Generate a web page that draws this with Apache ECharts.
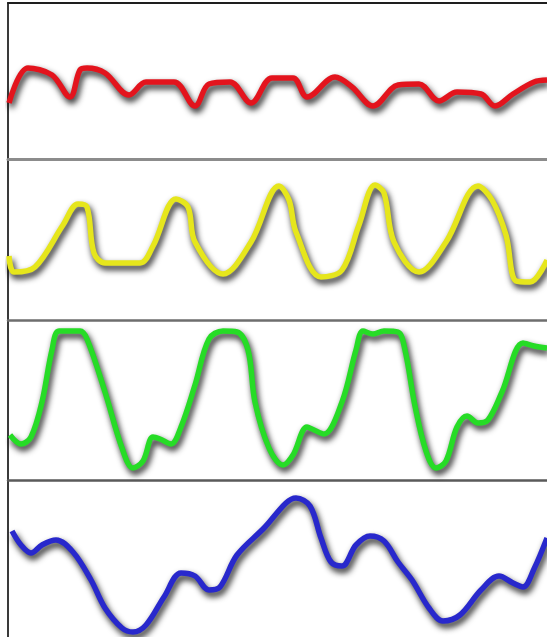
<!DOCTYPE html>
<html>
<head>
<meta charset="utf-8">
<script src="https://cdn.jsdelivr.net/npm/echarts@6/dist/echarts.min.js"></script>
<style>
html,body{margin:0;padding:0;background:#fff;}
#chart{width:547px;height:637px;}
</style>
</head>
<body>
<div id="chart"></div>
<script>
// Red trace
var redT = [1,20,44,62,72,79,97,121,138,166,187,201,222,243,264,285,299,327,344,365,390,411,431,449,473,487,505,526,539];
var redV = [56,91,84,62,89,91,86,64,77,77,53,75,77,56,81,81,62,82,72,53,74,75,58,67,65,53,65,77,79];
// Yellow trace
var yellowT = [1,6,27,55,70,79,86,97,132,145,168,180,187,215,243,271,281,288,313,334,351,367,376,386,411,438,470,484,498,508,522,539];
var yellowV = [64,48,53,95,116,113,67,57,57,74,121,113,78,46,78,134,120,88,43,50,95,135,127,78,48,78,134,120,85,39,38,60];
// Green trace
var greenT = [2,13,23,34,44,51,72,79,97,114,125,135,145,152,163,173,187,201,215,229,240,247,261,275,285,299,306,316,334,348,355,365,376,390,397,407,418,428,438,449,459,470,480,494,515,526,539];
var greenV = [45,36,43,78,130,149,149,141,88,32,12,19,43,41,36,53,95,141,149,148,130,78,32,15,25,53,50,46,78,130,149,146,149,148,130,74,29,12,19,53,64,57,60,88,137,134,132];
// Blue trace
var blueT = [4,13,23,34,48,65,83,97,114,125,138,156,173,187,201,212,229,257,278,288,302,313,323,334,348,362,376,390,404,421,435,452,473,491,505,515,526,539];
var blueV = [106,92,84,92,97,85,57,29,9,5,12,40,64,61,47,50,82,110,134,139,131,99,75,71,92,101,96,75,57,29,16,22,47,61,54,50,68,99];

var traces = [
  {t: redT, v: redV, color: '#e3141d', top: 3, h: 156, border: '#1e1e1e', bw: 2},
  {t: yellowT, v: yellowV, color: '#e6e61c', top: 159, h: 161, border: '#8c8c8c', bw: 3},
  {t: greenT, v: greenV, color: '#26dc26', top: 320, h: 160, border: '#6e6e6e', bw: 2.5},
  {t: blueT, v: blueV, color: '#2828cc', top: 480, h: 157, border: '#5a5a5a', bw: 2.5}
];

function zip(a, b){ return a.map(function(x, i){ return [x, b[i]]; }); }

var grids = [], xAxes = [], yAxes = [], series = [];
traces.forEach(function(tr, i){
  grids.push({left: 8, right: 0, top: tr.top, height: tr.h, containLabel: false});
  xAxes.push({
    type: 'value', gridIndex: i, min: 0, max: 539, position: 'top',
    axisLine: {show: true, onZero: false, lineStyle: {color: tr.border, width: tr.bw}},
    axisTick: {show: false}, axisLabel: {show: false}, splitLine: {show: false}
  });
  yAxes.push({
    type: 'value', gridIndex: i, min: 0, max: tr.h,
    axisLine: {show: true, onZero: false, lineStyle: {color: '#3a3a3a', width: 2}},
    axisTick: {show: false}, axisLabel: {show: false}, splitLine: {show: false}
  });
  series.push({
    type: 'line', xAxisIndex: i, yAxisIndex: i, data: zip(tr.t, tr.v),
    smooth: 0.35, showSymbol: false, clip: false, z: 3,
    lineStyle: {
      color: tr.color, width: 5.5,
      shadowColor: 'rgba(0,0,0,0.9)', shadowBlur: 6, shadowOffsetX: 2, shadowOffsetY: 4
    }
  });
});

var chart = echarts.init(document.getElementById('chart'), null, {renderer: 'canvas'});
chart.setOption({
  backgroundColor: '#ffffff',
  animation: false,
  grid: grids,
  xAxis: xAxes,
  yAxis: yAxes,
  series: series
});
</script>
</body>
</html>
